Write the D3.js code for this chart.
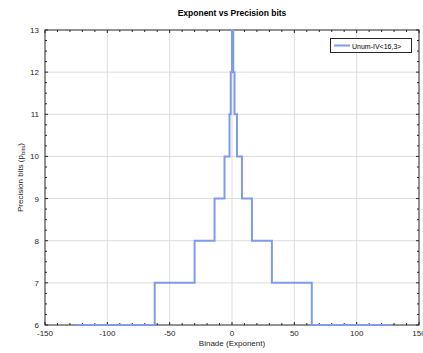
<!DOCTYPE html>
<html>
<head>
<meta charset="utf-8">
<script src="https://cdn.jsdelivr.net/npm/d3@7"></script>
<style>
  body { margin: 0; background: #fff; }
  svg { display: block; font-family: "Liberation Sans", Arial, sans-serif; }
</style>
</head>
<body>
<div id="chart"></div>
<script>
// binade where each step starts, and the precision bits from there on
const binades = [-126, -62, -30, -14, -6, -2, -1, 0, 1, 2, 4, 8, 16, 32, 64, 128];
const precisionBits = [6, 7, 8, 9, 10, 11, 12, 13, 12, 11, 10, 9, 8, 7, 6, 6];
const xTicks = [-150, -100, -50, 0, 50, 100, 150];
const yTicks = [6, 7, 8, 9, 10, 11, 12, 13];
const seriesName = "Unum-IV<16,3>";

const width = 423, height = 353;
const margin = {top: 30, right: 4, bottom: 28, left: 45};

const svg = d3.select("#chart").append("svg")
    .attr("width", width)
    .attr("height", height);

const x = d3.scaleLinear().domain([-150, 150]).range([margin.left, width - margin.right]);
const y = d3.scaleLinear().domain([6, 13]).range([height - margin.bottom, margin.top]);

const axisColor = "#262626";

// grid
svg.append("g")
    .selectAll("line")
    .data(xTicks.slice(1, -1))
    .join("line")
    .attr("x1", d => x(d)).attr("x2", d => x(d))
    .attr("y1", y(6)).attr("y2", y(13))
    .attr("stroke", "#dcdcdc").attr("stroke-width", 1);

svg.append("g")
    .selectAll("line")
    .data(yTicks.slice(1, -1))
    .join("line")
    .attr("y1", d => y(d)).attr("y2", d => y(d))
    .attr("x1", x(-150)).attr("x2", x(150))
    .attr("stroke", "#dcdcdc").attr("stroke-width", 1);

// step line
const data = binades.map((b, i) => ({b: b, p: precisionBits[i]}));
const line = d3.line()
    .x(d => x(d.b))
    .y(d => y(d.p))
    .curve(d3.curveStepAfter);

// ticks (inside, on all four sides)
const xMinor = d3.range(-150, 151, 10);
const yMinor = d3.range(6, 13.001, 0.25);
const tk = svg.append("g").attr("stroke", axisColor).attr("stroke-width", 1);
xMinor.forEach(v => {
  const len = xTicks.includes(v) ? 3 : 2;
  tk.append("line").attr("x1", x(v)).attr("x2", x(v)).attr("y1", y(6)).attr("y2", y(6) - len);
  tk.append("line").attr("x1", x(v)).attr("x2", x(v)).attr("y1", y(13)).attr("y2", y(13) + len);
});
yMinor.forEach(v => {
  const len = Number.isInteger(v) ? 3 : 2;
  tk.append("line").attr("y1", y(v)).attr("y2", y(v)).attr("x1", x(-150)).attr("x2", x(-150) + len);
  tk.append("line").attr("y1", y(v)).attr("y2", y(v)).attr("x1", x(150)).attr("x2", x(150) - len);
});

// box
svg.append("rect")
    .attr("x", x(-150)).attr("y", y(13))
    .attr("width", x(150) - x(-150)).attr("height", y(6) - y(13))
    .attr("fill", "none").attr("stroke", axisColor).attr("stroke-width", 1);

svg.append("path")
    .datum(data)
    .attr("d", line)
    .attr("fill", "none")
    .attr("stroke", "#7f9cec")
    .attr("stroke-width", 2);

// tick labels
svg.append("g")
    .selectAll("text")
    .data(xTicks)
    .join("text")
    .attr("x", d => x(d)).attr("y", y(6) + 11)
    .attr("text-anchor", "middle")
    .attr("font-size", 8).attr("fill", axisColor)
    .text(d => d);

svg.append("g")
    .selectAll("text")
    .data(yTicks)
    .join("text")
    .attr("x", x(-150) - 6).attr("y", d => y(d) + 3)
    .attr("text-anchor", "end")
    .attr("font-size", 8).attr("fill", axisColor)
    .text(d => d);

// title & labels
svg.append("text")
    .attr("x", (x(-150) + x(150)) / 2).attr("y", 16)
    .attr("text-anchor", "middle")
    .attr("font-size", 8.5).attr("font-weight", "bold").attr("fill", "#000")
    .text("Exponent vs Precision bits");

svg.append("text")
    .attr("x", (x(-150) + x(150)) / 2).attr("y", 346)
    .attr("text-anchor", "middle")
    .attr("font-size", 8).attr("fill", axisColor)
    .text("Binade (Exponent)");

const yl = svg.append("text")
    .attr("transform", `translate(23,${(y(6) + y(13)) / 2}) rotate(-90)`)
    .attr("text-anchor", "middle")
    .attr("font-size", 8).attr("fill", axisColor);
yl.append("tspan").text("Precision bits (p");
yl.append("tspan").attr("font-size", 6).attr("dy", 2).text("bits");
yl.append("tspan").attr("dy", -2).text(")");

// legend
const lg = svg.append("g");
lg.append("rect")
    .attr("x", 330.5).attr("y", 38.5).attr("width", 81).attr("height", 14)
    .attr("fill", "#fff").attr("stroke", axisColor).attr("stroke-width", 1);
lg.append("line")
    .attr("x1", 334).attr("x2", 350).attr("y1", 45.5).attr("y2", 45.5)
    .attr("stroke", "#7f9cec").attr("stroke-width", 2);
lg.append("text")
    .attr("x", 352).attr("y", 48.5)
    .attr("font-size", 7).attr("fill", "#000")
    .text(seriesName);
</script>
</body>
</html>
